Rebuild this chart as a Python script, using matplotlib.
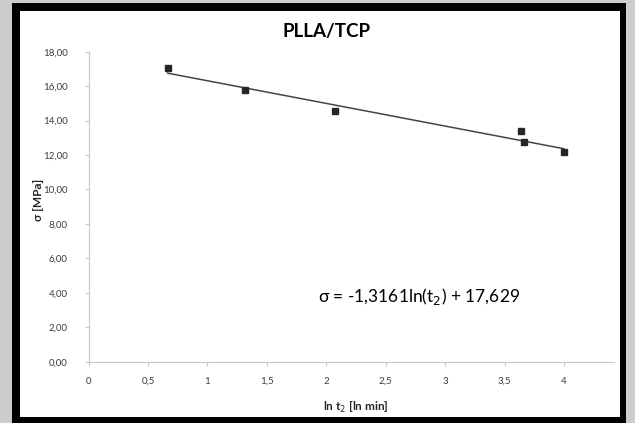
import matplotlib
matplotlib.use("Agg")
import matplotlib.pyplot as plt
from matplotlib.patches import Rectangle
from matplotlib.ticker import FuncFormatter
import numpy as np

# ln t2 [ln min] vs sigma [MPa]
ln_t = [0.665, 1.314, 2.07, 3.634, 3.667, 3.998]
sigma = [17.05, 15.78, 14.56, 13.38, 12.75, 12.15]
# Excel linear trendline: sigma = a*ln(t2) + b
slope, intercept = -1.3161, 17.629

plt.rcParams["font.family"] = ["Lato", "DejaVu Sans"]
W, H = 635, 423
fig = plt.figure(figsize=(W / 100, H / 100), dpi=100, facecolor="#cdcdcd")

# black frame + white card behind the axes
fig.patches.append(Rectangle((12 / W, 0), 614 / W, 420 / H, transform=fig.transFigure,
                             facecolor="black", edgecolor="none", zorder=-2))
fig.patches.append(Rectangle((20 / W, 6 / H), 600 / W, 406 / H, transform=fig.transFigure,
                             facecolor="white", edgecolor="none", zorder=-1))

ax = fig.add_axes([88.6 / W, 61.3 / H, (614 - 88.6) / W, 310 / H])
ax.set_zorder(2)
ax.set_facecolor("none")
ax.set_xlim(0, 4.42)
ax.set_ylim(0, 18)
ax.set_xticks(np.arange(0, 4.01, 0.5))
ax.set_yticks(np.arange(0, 18.01, 2))
ax.xaxis.set_major_formatter(FuncFormatter(lambda v, p: f"{v:g}".replace(".", ",")))
ax.yaxis.set_major_formatter(FuncFormatter(lambda v, p: f"{v:.2f}".replace(".", ",")))
for s in ("top", "right"):
    ax.spines[s].set_visible(False)
for s in ("left", "bottom"):
    ax.spines[s].set_color("#c8c8c8")
    ax.spines[s].set_linewidth(0.8)
ax.tick_params(colors="#c8c8c8", labelcolor="#3c3c3c", labelsize=7, length=3, width=0.8)
ax.tick_params(axis="y", pad=12)
ax.tick_params(axis="x", pad=8)

xs = np.array([min(ln_t), max(ln_t)])
ax.plot(xs, slope * xs + intercept, color="#454545", lw=1.1, zorder=2)
ax.plot(ln_t, sigma, "s", color="#262626", ms=5, zorder=3)

ax.text(2.78, 3.8, "σ = -1,3161ln(t$_2$) + 17,629", fontsize=12.5, color="black",
        ha="center", va="center")
fig.text(327 / W, 1 - 31 / H, "PLLA/TCP", fontsize=13.5, fontweight="bold",
         ha="center", va="center")
fig.text(38 / W, 1 - 200 / H, "σ [MPa]", fontsize=8.5, fontweight="bold", rotation=90,
         ha="center", va="center", color="#262626")
fig.text(356 / W, 1 - 407 / H, "ln t$_2$ [ln min]", fontsize=8.5, fontweight="bold",
         ha="center", va="center", color="#262626")

fig.savefig("out.png", dpi=100, facecolor=fig.get_facecolor())
